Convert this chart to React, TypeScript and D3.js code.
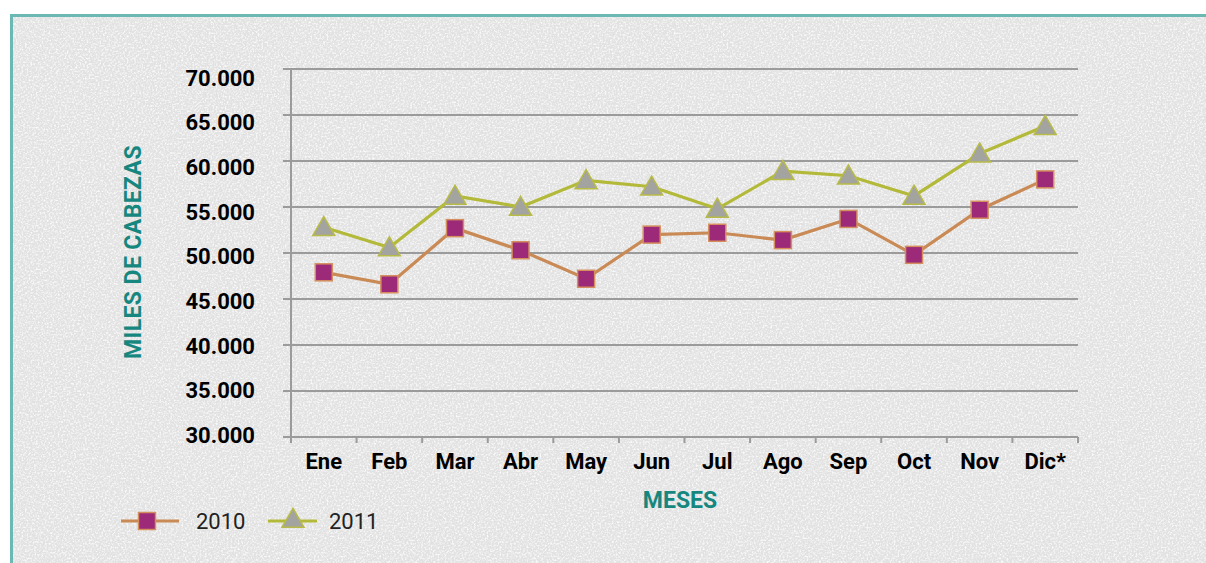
import React, { useEffect, useRef } from "react";
import * as d3 from "d3";

const months = ["Ene", "Feb", "Mar", "Abr", "May", "Jun", "Jul", "Ago", "Sep", "Oct", "Nov", "Dic*"];
const values2010 = [47900, 46600, 52700, 50300, 47200, 52000, 52200, 51400, 53700, 49800, 54700, 58000];
const values2011 = [52800, 50600, 56200, 55000, 57900, 57200, 54800, 58900, 58400, 56200, 60800, 63800];
const yTicks = [30000, 35000, 40000, 45000, 50000, 55000, 60000, 65000, 70000];

const teal = "#16877f";
const font = "Roboto, 'DejaVu Sans', sans-serif";

const App = () => {
  const svgRef = useRef(null);

  useEffect(() => {
    const width = 1206;
    const height = 563;
    const svg = d3.select(svgRef.current).attr("width", width).attr("height", height);
    svg.selectAll("*").remove();

    // speckled background texture
    const defs = svg.append("defs");
    const filter = defs.append("filter").attr("id", "noise").attr("x", 0).attr("y", 0).attr("width", "100%").attr("height", "100%");
    filter.append("feTurbulence").attr("type", "fractalNoise").attr("baseFrequency", 0.55).attr("numOctaves", 2).attr("stitchTiles", "stitch");
    filter
      .append("feColorMatrix")
      .attr("type", "matrix")
      .attr("values", "0 0 0 0 1  0 0 0 0 1  0 0 0 0 1  3 0 0 0 -1.3");

    svg.append("rect").attr("width", width).attr("height", height).attr("fill", "#fff");
    svg.append("rect").attr("x", 12).attr("y", 16).attr("width", width - 12).attr("height", height - 16).attr("fill", "#e2e2e2");
    svg
      .append("rect")
      .attr("x", 12)
      .attr("y", 16)
      .attr("width", width - 12)
      .attr("height", height - 16)
      .attr("filter", "url(#noise)")
      .attr("opacity", 0.8);

    // frame
    svg
      .append("path")
      .attr("d", `M11.5,${height} V15.5 H${width}`)
      .attr("fill", "none")
      .attr("stroke", "#6cb9b4")
      .attr("stroke-width", 3);

    const x = d3.scaleBand().domain(months).range([291, 1078]).padding(0);
    const y = d3.scaleLinear().domain([30000, 70000]).range([437, 69]);
    // tick labels sit on a slightly tighter spacing than the gridlines
    const yLabel = d3.scaleLinear().domain([30000, 70000]).range([435, 77.5]);
    const fmt = d3.formatLocale({ decimal: ",", thousands: ".", grouping: [3], currency: ["", ""] }).format(",");

    // gridlines
    svg
      .append("g")
      .selectAll("line")
      .data(yTicks)
      .enter()
      .append("line")
      .attr("x1", 283)
      .attr("x2", 1078)
      .attr("y1", (d) => y(d))
      .attr("y2", (d) => y(d))
      .attr("stroke", "#9b9b9b")
      .attr("stroke-width", 2);

    // y axis line
    svg.append("line").attr("x1", 291).attr("x2", 291).attr("y1", 69).attr("y2", 443).attr("stroke", "#9b9b9b").attr("stroke-width", 2);

    // x ticks at band boundaries
    const bounds = months.map((m) => x(m)).concat([x.range()[1]]);
    svg
      .append("g")
      .selectAll("line")
      .data(bounds)
      .enter()
      .append("line")
      .attr("x1", (d) => d)
      .attr("x2", (d) => d)
      .attr("y1", 437)
      .attr("y2", 443)
      .attr("stroke", "#9b9b9b")
      .attr("stroke-width", 2);

    // y tick labels
    svg
      .append("g")
      .selectAll("text")
      .data(yTicks)
      .enter()
      .append("text")
      .attr("x", 255)
      .attr("y", (d) => yLabel(d) + 8)
      .attr("text-anchor", "end")
      .attr("font-family", font)
      .attr("font-weight", "bold")
      .attr("font-size", 22)
      .attr("fill", "#000")
      .text((d) => fmt(d));

    // x tick labels
    svg
      .append("g")
      .selectAll("text")
      .data(months)
      .enter()
      .append("text")
      .attr("x", (d) => x(d) + x.bandwidth() / 2)
      .attr("y", 469)
      .attr("text-anchor", "middle")
      .attr("font-family", font)
      .attr("font-weight", "bold")
      .attr("font-size", 22)
      .attr("fill", "#000")
      .text((d) => d);

    // axis titles
    svg
      .append("text")
      .attr("transform", "translate(141,252) rotate(-90)")
      .attr("text-anchor", "middle")
      .attr("font-family", font)
      .attr("font-weight", "bold")
      .attr("font-size", 23)
      .attr("letter-spacing", 0.4)
      .attr("fill", teal)
      .text("MILES DE CABEZAS");

    svg
      .append("text")
      .attr("x", 680)
      .attr("y", 508)
      .attr("text-anchor", "middle")
      .attr("font-family", font)
      .attr("font-weight", "bold")
      .attr("font-size", 23)
      .attr("fill", teal)
      .text("MESES");

    const cx = (i) => x(months[i]) + x.bandwidth() / 2;
    const line = d3
      .line()
      .x((d, i) => cx(i))
      .y((d) => y(d));

    const tri = d3.symbol().type(d3.symbolTriangle).size(210);

    // series 2010
    svg.append("path").datum(values2010).attr("d", line).attr("fill", "none").attr("stroke", "#c98a55").attr("stroke-width", 3.2);
    svg
      .append("g")
      .selectAll("rect")
      .data(values2010)
      .enter()
      .append("rect")
      .attr("x", (d, i) => cx(i) - 8.5)
      .attr("y", (d) => y(d) - 8.5)
      .attr("width", 17)
      .attr("height", 17)
      .attr("fill", "#9c2a78")
      .attr("stroke", "#d58f5e")
      .attr("stroke-width", 1.5);

    // series 2011
    svg.append("path").datum(values2011).attr("d", line).attr("fill", "none").attr("stroke", "#b3b938").attr("stroke-width", 3.2);
    svg
      .append("g")
      .selectAll("path")
      .data(values2011)
      .enter()
      .append("path")
      .attr("d", tri)
      .attr("transform", (d, i) => `translate(${cx(i)},${y(d) + 2})`)
      .attr("fill", "#a3a3a0")
      .attr("stroke", "#b8bb48")
      .attr("stroke-width", 1.5);

    // legend
    const lg = svg.append("g");
    lg.append("line").attr("x1", 121).attr("x2", 179).attr("y1", 521).attr("y2", 521).attr("stroke", "#c98a55").attr("stroke-width", 3.2);
    lg.append("rect").attr("x", 138.5).attr("y", 512.5).attr("width", 17).attr("height", 17).attr("fill", "#9c2a78").attr("stroke", "#d58f5e").attr("stroke-width", 1.5);
    lg.append("text").attr("x", 196).attr("y", 529).attr("font-family", font).attr("font-size", 22).attr("fill", "#222").text("2010");
    lg.append("line").attr("x1", 268).attr("x2", 317).attr("y1", 521).attr("y2", 521).attr("stroke", "#b3b938").attr("stroke-width", 3.2);
    lg.append("path").attr("d", tri).attr("transform", "translate(293,521)").attr("fill", "#a3a3a0").attr("stroke", "#b8bb48").attr("stroke-width", 1.5);
    lg.append("text").attr("x", 329).attr("y", 529).attr("font-family", font).attr("font-size", 22).attr("fill", "#222").text("2011");
  }, []);

  return <svg ref={svgRef} style={{ position: "absolute", left: 0, top: 0, display: "block" }}></svg>;
};

export default App;
